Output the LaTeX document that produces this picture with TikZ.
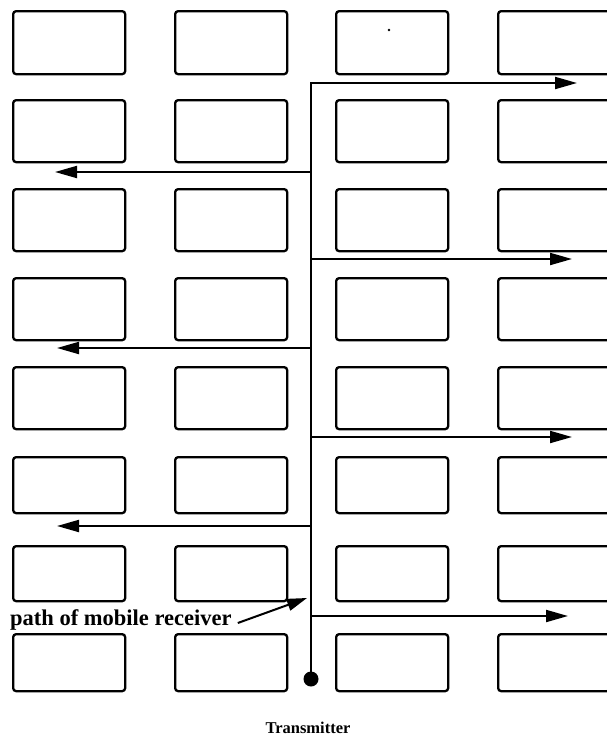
\documentclass[tikz,border=0pt]{standalone}
\usepackage{fontspec}
\setmainfont{Liberation Serif}
\usetikzlibrary{arrows.meta,positioning}
\tikzset{
  block/.style={draw, line width=2.3pt, rounded corners=3pt, minimum width=112pt, anchor=north west, inner sep=0pt},
  street/.style={line width=2pt},
  route/.style={street, -{Triangle[length=22pt,width=12pt]}},
  pointer/.style={line width=2pt, -{Triangle[length=20pt,width=12pt]}},
}

\begin{document}
\begin{tikzpicture}[x=1pt,y=-1pt]
\useasboundingbox (0,0) rectangle (606,742);
\foreach \r/\y/\h in {1/10/63, 2/99/62, 3/188/62, 4/277/62, 5/366/62, 6/456/56, 7/545/55, 8/633/57}{
  \foreach \c/\x in {1/12, 2/174, 3/335, 4/497}{
    \node[block, minimum height=\h pt] (b\r\c) at (\x,\y) {};
  }
}
\fill (389,30) circle (1.3pt);
\node[circle, fill, inner sep=0pt, minimum size=15pt] (tx) at (311,679) {};
\coordinate (e1) at (577,83);
\draw[route] (tx.center) |- (e1);
\foreach \n/\y/\xe in {2/172/55, 3/259/572, 4/348/57, 5/437/572, 6/526/57, 7/616/568}{
  \coordinate (j\n) at (311,\y);
  \coordinate (e\n) at (\xe,\y);
  \draw[route] (j\n) -- (e\n);
}
\node[font=\bfseries\fontsize{22.5}{26}\selectfont, anchor=base west, inner sep=0pt] (lbl) at (10,625) {path of mobile receiver};
\coordinate (rx) at (307,598);
\draw[pointer] ([xshift=6pt,yshift=2pt]lbl.base east) -- (rx);
\node[font=\bfseries\fontsize{16.5}{20}\selectfont, anchor=base, inner sep=0pt] (txl) at (308,733) {Transmitter};
\end{tikzpicture}
\end{document}
